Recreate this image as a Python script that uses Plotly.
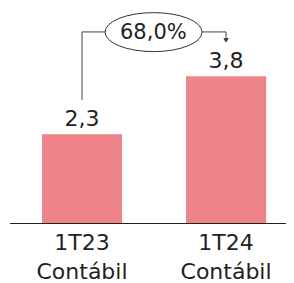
import plotly.graph_objects as go

categories = ["1T23<br>Contábil", "1T24<br>Contábil"]
values = [2.3, 3.8]
value_labels = ["2,3", "3,8"]
growth_label = "68,0%"

bar_color = "#EF838A"
text_color = "#231F20"
font_family = "DejaVu Sans"

x_idx = [0, 1]

fig = go.Figure()
fig.add_trace(go.Bar(
    x=x_idx, y=values, width=0.556,
    marker=dict(color=bar_color, line=dict(width=0)),
    text=value_labels, textposition="outside",
    textfont=dict(size=22, color=text_color, family=font_family),
    cliponaxis=False,
))

line = dict(color="#444444", width=1)
yc = 4.95
# connector
fig.add_shape(type="line", x0=0, x1=0, y0=3.19, y1=yc, xref="x", yref="y", line=line)
fig.add_shape(type="line", x0=0, x1=0.16, y0=yc, y1=yc, xref="x", yref="y", line=line)
fig.add_shape(type="circle", x0=0.16, x1=0.833, y0=4.44, y1=5.45, xref="x", yref="y",
              line=dict(color="#333333", width=1), fillcolor="white")
fig.add_shape(type="line", x0=0.833, x1=1, y0=yc, y1=yc, xref="x", yref="y", line=line)
fig.add_shape(type="line", x0=1, x1=1, y0=yc, y1=4.76, xref="x", yref="y", line=line)
fig.add_shape(type="path", path="M 0.985 4.78 L 1.015 4.78 L 1 4.69 Z", xref="x", yref="y",
              line=dict(color="#444444", width=1), fillcolor="#444444")
fig.add_annotation(x=0.495, y=yc, xref="x", yref="y", text=growth_label, showarrow=False,
                   font=dict(size=21, color=text_color, family=font_family))

fig.update_layout(
    width=286, height=275,
    margin=dict(l=2, r=6, t=0, b=60),
    paper_bgcolor="white", plot_bgcolor="white",
    showlegend=False,
    xaxis=dict(range=[-0.5, 1.43], tickvals=x_idx, ticktext=categories,
               showline=True, linecolor="#222222", linewidth=1,
               showgrid=False, zeroline=False, ticks="",
               tickfont=dict(size=22, color=text_color, family=font_family)),
    yaxis=dict(range=[0, 5.57], visible=False, showgrid=False, zeroline=False),
)

fig.write_html("out.html")
